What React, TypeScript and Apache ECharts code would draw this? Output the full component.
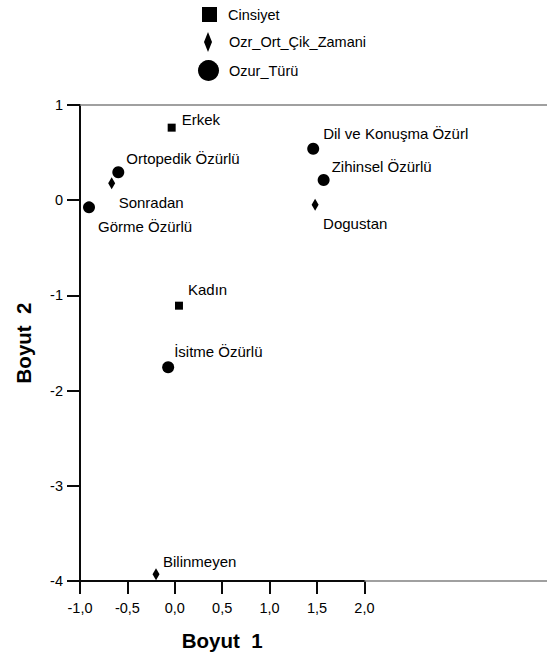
import React, { useEffect, useRef } from "react";
import * as echarts from "echarts";

// ---- data ----
const seriesNames = ["Cinsiyet", "Ozr_Ort_Çik_Zamani", "Ozur_Türü"];

const cinsiyetNames = ["Erkek", "Kadın"];
const cinsiyetX = [-0.033, 0.044];
const cinsiyetY = [0.762, -1.108];

const zamanNames = ["Sonradan", "Dogustan", "Bilinmeyen"];
const zamanX = [-0.666, 1.48, -0.198];
const zamanY = [0.178, -0.047, -3.93];

const turNames = ["Ortopedik Özürlü", "Görme Özürlü", "Dil ve Konuşma Özürl", "Zihinsel Özürlü", "İsitme Özürlü"];
const turX = [-0.596, -0.905, 1.46, 1.57, -0.07];
const turY = [0.293, -0.075, 0.541, 0.212, -1.755];

const xTicks = [-1, -0.5, 0, 0.5, 1, 1.5, 2];
const yTicks = [-4, -3, -2, -1, 0, 1];
const xTitle = "Boyut  1";
const yTitle = "Boyut  2";

// ---- label placement (layout, pixels relative to the point) ----
const labelOffsets: Record<string, [number, number]> = {
  "Erkek": [10, -8],
  "Kadın": [9, -16],
  "Sonradan": [7, 19],
  "Dogustan": [8, 19],
  "Bilinmeyen": [7, -13],
  "Ortopedik Özürlü": [8, -14],
  "Görme Özürlü": [9, 19],
  "Dil ve Konuşma Özürl": [10, -15],
  "Zihinsel Özürlü": [8, -14],
  "İsitme Özürlü": [6, -16],
};

const FONT = "'Liberation Sans', Arial, Helvetica, sans-serif";
const INK = "#000000";
const STROKE = "#0a0a0a";
const FRAME = "#808080";
const TICK_LEN = 13;

// plot frame layout (pixels)
const PLOT_LEFT = 80;
const PLOT_TOP = 105;
const PLOT_W = 284.4;
const PLOT_H = 476;
const W = 547;

function buildData(names: string[], xs: number[], ys: number[]) {
  return names.map((n, i) => ({
    name: n,
    value: [xs[i], ys[i]],
    label: { offset: labelOffsets[n] || [8, -12] },
  }));
}

export default function App() {
  const ref = useRef<HTMLDivElement>(null);
  useEffect(() => {
    if (!ref.current) return;
    const chart = echarts.init(ref.current, null, { renderer: "svg" });
    const labelCommon = {
      show: true,
      position: "inside",
      align: "left",
      verticalAlign: "middle",
      color: INK,
      fontSize: 15,
      fontFamily: FONT,
      formatter: (p: any) => p.name,
    };
    const textStyle = { color: INK, fontSize: 14.5, fontFamily: FONT };
    const xMin = xTicks[0];
    const xMax = xTicks[xTicks.length - 1];
    const yMin = yTicks[0];
    const yMax = yTicks[yTicks.length - 1];
    const axisLine = { show: true, onZero: false, lineStyle: { color: STROKE, width: 2 } };
    const axisTick = { show: true, length: TICK_LEN, lineStyle: { color: STROKE, width: 2 } };
    const option: any = {
      animation: false,
      backgroundColor: "#ffffff",
      legend: [
        {
          orient: "vertical", padding: 0, selectedMode: false,
          data: [{ name: seriesNames[0], icon: "rect" }],
          left: 202, top: 7, itemWidth: 15, itemHeight: 15,
          textStyle: { ...textStyle, padding: [0, 0, 0, 6] },
        },
        {
          orient: "vertical", padding: 0, selectedMode: false,
          data: [{ name: seriesNames[1], icon: "diamond" }],
          left: 204, top: 32, itemWidth: 8, itemHeight: 20,
          textStyle: { ...textStyle, padding: [0, 0, 0, 12] },
        },
        {
          orient: "vertical", padding: 0, selectedMode: false,
          data: [{ name: seriesNames[2], icon: "circle" }],
          left: 198, top: 60, itemWidth: 21, itemHeight: 21,
          textStyle: { ...textStyle, padding: [0, 0, 0, 5] },
        },
      ],
      grid: { left: PLOT_LEFT, width: PLOT_W, top: PLOT_TOP, height: PLOT_H },
      xAxis: {
        type: "value",
        min: xMin,
        max: xMax,
        interval: 0.5,
        axisLine,
        axisTick,
        axisLabel: {
          margin: 19,
          color: INK,
          fontSize: 14.5,
          fontFamily: FONT,
          formatter: (v: number) => v.toFixed(1).replace(".", ","),
        },
        splitLine: { show: false },
        name: xTitle,
        nameLocation: "middle",
        nameGap: 49,
        nameTextStyle: { color: INK, fontSize: 20.5, fontWeight: "bold", fontFamily: FONT },
      },
      yAxis: {
        type: "value",
        min: yMin,
        max: yMax,
        interval: 1,
        axisLine,
        axisTick,
        axisLabel: {
          margin: 17,
          color: INK,
          fontSize: 14.5,
          fontFamily: FONT,
          formatter: (v: number) => String(v),
        },
        splitLine: { show: false },
        name: yTitle,
        nameLocation: "middle",
        nameGap: 46,
        nameTextStyle: { color: INK, fontSize: 20.5, fontWeight: "bold", fontFamily: FONT },
      },
      series: [
        {
          name: seriesNames[0],
          type: "scatter",
          symbol: "rect",
          symbolSize: 8,
          itemStyle: { color: INK, opacity: 1 },
          label: labelCommon,
          data: buildData(cinsiyetNames, cinsiyetX, cinsiyetY),
        },
        {
          name: seriesNames[1],
          type: "scatter",
          symbol: "diamond",
          symbolSize: [7, 12],
          itemStyle: { color: INK, opacity: 1 },
          label: labelCommon,
          data: buildData(zamanNames, zamanX, zamanY),
        },
        {
          name: seriesNames[2],
          type: "scatter",
          symbol: "circle",
          symbolSize: 12,
          itemStyle: { color: INK, opacity: 1 },
          label: labelCommon,
          data: buildData(turNames, turX, turY),
        },
      ],
    };
    chart.setOption(option);

    // grey frame lines, placed through the chart's own scales
    const toPx = (x: number, y: number) =>
      chart.convertToPixel({ seriesIndex: 0 }, [x, y]) as number[];
    const xEnd = toPx(xMax, yMin);
    const yEnd = toPx(xMin, yMax);
    chart.setOption({
      graphic: [
        {
          type: "line", z: 1, silent: true,
          shape: { x1: yEnd[0], y1: yEnd[1], x2: W, y2: yEnd[1] },
          style: { stroke: FRAME, lineWidth: 1.5 },
        },
        {
          type: "line", z: 1, silent: true,
          shape: { x1: xEnd[0], y1: xEnd[1], x2: W, y2: xEnd[1] },
          style: { stroke: FRAME, lineWidth: 1.5 },
        },
      ],
    });

    return () => chart.dispose();
  }, []);
  return (
    <div
      ref={ref}
      style={{ position: "fixed", left: 0, top: 0, width: W, height: 657, background: "#fff" }}
    />
  );
}
